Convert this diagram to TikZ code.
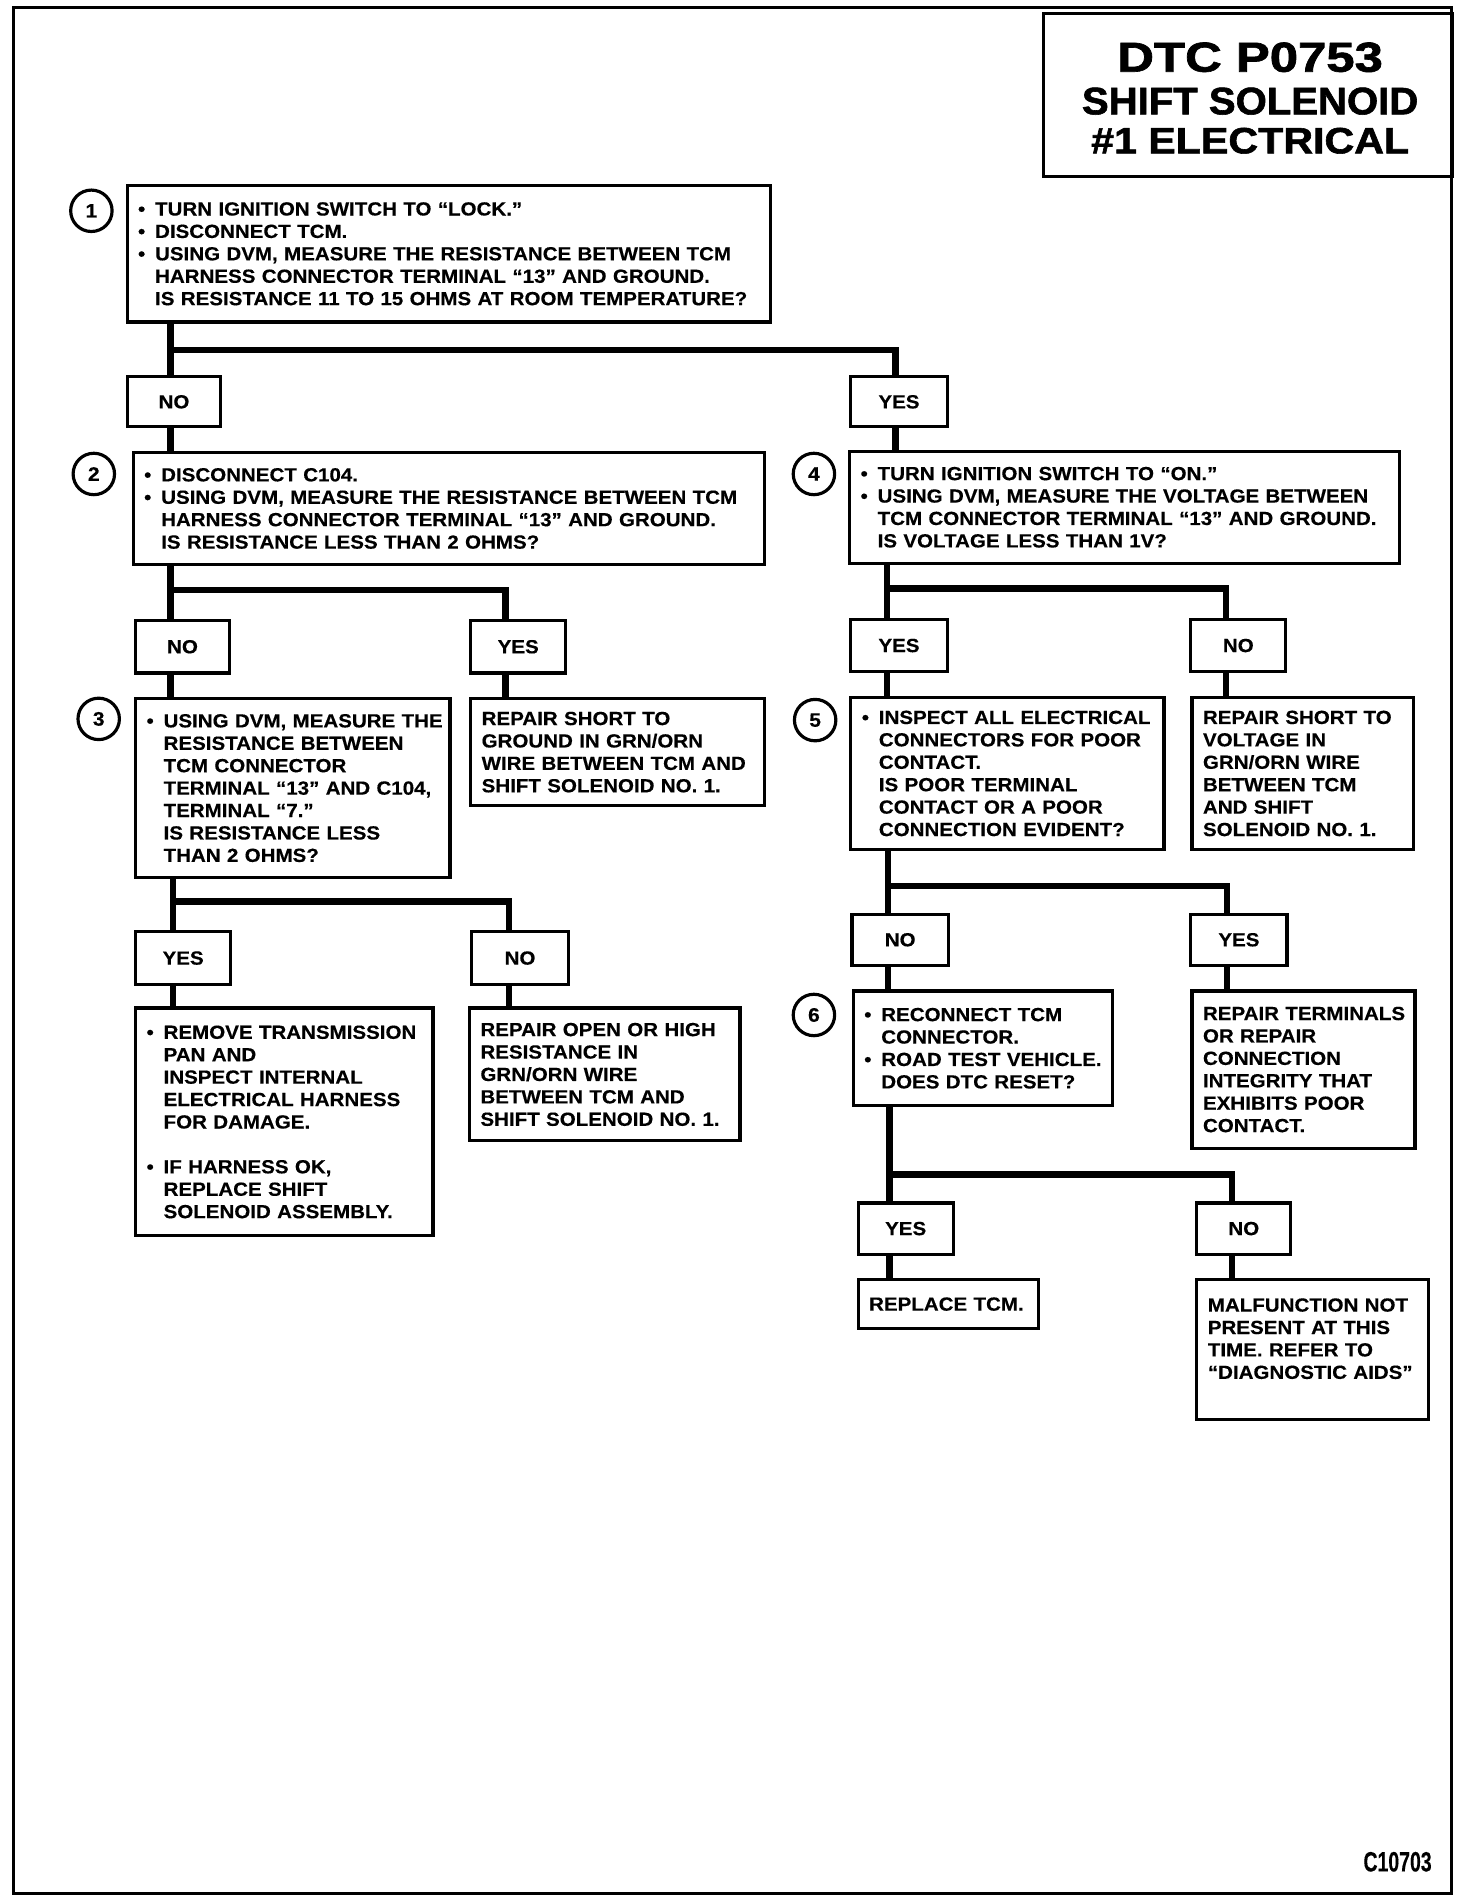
\documentclass[tikz,border=0pt]{standalone}
\usepackage{fontspec}
\setmainfont{Liberation Sans}[FakeStretch=1.08,FakeBold=0.35]
\newfontfamily\ttlfont{Liberation Sans}[FakeBold=1.5]
\usepackage{graphicx}
\newcommand{\bi}[1]{\mbox{\makebox[7pt][l]{•}#1}}
\newcommand{\ci}[1]{\mbox{\hspace*{7pt}#1}}
\newcommand{\pl}[1]{\mbox{#1}}
\begin{document}
\begin{tikzpicture}[x=0.5pt,y=-0.5pt,
  box/.style={draw,line width=1.3pt,anchor=north west,inner xsep=4.5pt,inner ysep=0pt,align=left,font=\bfseries\fontsize{7.8}{9.2}\selectfont},
  lbl/.style={draw,line width=1.3pt,anchor=north west,inner sep=0pt,font=\bfseries\fontsize{7.8}{9.2}\selectfont},
  num/.style={draw,circle,line width=1.3pt,minimum size=17pt,inner sep=0pt,font=\bfseries\fontsize{8}{9}\selectfont},
  conn/.style={line width=2.6pt,line join=miter}]
\useasboundingbox (0,0) rectangle (1208,1561);
\draw[line width=1.2pt] (11,6) rectangle (1191,1554);
% title
\node[draw,line width=1.2pt,anchor=north west,minimum width=168pt,minimum height=67pt,inner sep=0pt] (tbox) at (855,10) {};
\node[align=center,inner sep=0pt,font=\ttlfont\bfseries\fontsize{10}{12}\selectfont] (ttl) at (1026,80.5)
 {\resizebox{109pt}{12pt}{DTC P0753}\\[5.5pt]\resizebox{138pt}{11pt}{SHIFT SOLENOID}\\[4pt]\resizebox{130.5pt}{10.5pt}{\#1 ELECTRICAL}};
\node[inner sep=0pt,font=\bfseries] (code) at (1147,1528) {\resizebox{28pt}{8pt}{C10703}};
% step numbers
\node[num] (c1) at (75,173) {1};
\node[num] (c2) at (77,389) {2};
\node[num] (c3) at (81,590) {3};
\node[num] (c4) at (668,389) {4};
\node[num] (c5) at (669,591) {5};
\node[num] (c6) at (668,833) {6};
% boxes
\node[box,text width=255pt,minimum height=56pt] (b1) at (103,151) {%
\bi{TURN IGNITION SWITCH TO “LOCK.”}\\
\bi{DISCONNECT TCM.}\\
\bi{USING DVM, MEASURE THE RESISTANCE BETWEEN TCM}\\
\ci{HARNESS CONNECTOR TERMINAL “13” AND GROUND.}\\
\ci{IS RESISTANCE 11 TO 15 OHMS AT ROOM TEMPERATURE?}};
\node[lbl,minimum width=38.5pt,minimum height=20.5pt] (no1) at (103,308) {NO};
\node[lbl,minimum width=39.5pt,minimum height=20.5pt] (yes1) at (697,308) {YES};
\node[box,text width=250pt,minimum height=46pt] (b2) at (108,370) {%
\bi{DISCONNECT C104.}\\
\bi{USING DVM, MEASURE THE RESISTANCE BETWEEN TCM}\\
\ci{HARNESS CONNECTOR TERMINAL “13” AND GROUND.}\\
\ci{IS RESISTANCE LESS THAN 2 OHMS?}};
\node[box,text width=216.5pt,minimum height=46pt] (b4) at (696,369) {%
\bi{TURN IGNITION SWITCH TO “ON.”}\\
\bi{USING DVM, MEASURE THE VOLTAGE BETWEEN}\\
\ci{TCM CONNECTOR TERMINAL “13” AND GROUND.}\\
\ci{IS VOLTAGE LESS THAN 1V?}};
\node[lbl,minimum width=38.5pt,minimum height=21.5pt] (no2) at (110,508) {NO};
\node[lbl,minimum width=39pt,minimum height=21.5pt] (yes2) at (385,508) {YES};
\node[box,text width=120pt,minimum height=73.5pt] (b3) at (110,572) {%
\bi{USING DVM, MEASURE THE}\\
\ci{RESISTANCE BETWEEN}\\
\ci{TCM CONNECTOR}\\
\ci{TERMINAL “13” AND C104,}\\
\ci{TERMINAL “7.”}\\
\ci{IS RESISTANCE LESS}\\
\ci{THAN 2 OHMS?}};
\node[box,text width=111.5pt,minimum height=44pt] (r1) at (385,572) {%
\pl{REPAIR SHORT TO}\\
\pl{GROUND IN GRN/ORN}\\
\pl{WIRE BETWEEN TCM AND}\\
\pl{SHIFT SOLENOID NO. 1.}};
\node[lbl,minimum width=39pt,minimum height=22pt] (yes3) at (110,763) {YES};
\node[lbl,minimum width=39.5pt,minimum height=22pt] (no3) at (386,763) {NO};
\node[box,text width=113pt,minimum height=93.5pt] (r2) at (110,826) {%
\bi{REMOVE TRANSMISSION}\\
\ci{PAN AND}\\
\ci{INSPECT INTERNAL}\\
\ci{ELECTRICAL HARNESS}\\
\ci{FOR DAMAGE.}\\[9.2pt]
\bi{IF HARNESS OK,}\\
\ci{REPLACE SHIFT}\\
\ci{SOLENOID ASSEMBLY.}};
\node[box,text width=102pt,minimum height=54.5pt] (r3) at (384,826) {%
\pl{REPAIR OPEN OR HIGH}\\
\pl{RESISTANCE IN}\\
\pl{GRN/ORN WIRE}\\
\pl{BETWEEN TCM AND}\\
\pl{SHIFT SOLENOID NO. 1.}};
\node[lbl,minimum width=39.5pt,minimum height=21.5pt] (yes4) at (697,507) {YES};
\node[lbl,minimum width=39pt,minimum height=21.5pt] (no4) at (976,507) {NO};
\node[box,text width=119.5pt,minimum height=62.5pt] (b5) at (697,571) {%
\bi{INSPECT ALL ELECTRICAL}\\
\ci{CONNECTORS FOR POOR}\\
\ci{CONTACT.}\\
\ci{IS POOR TERMINAL}\\
\ci{CONTACT OR A POOR}\\
\ci{CONNECTION EVIDENT?}};
\node[box,text width=82pt,minimum height=62.5pt] (r4) at (977,571) {%
\pl{REPAIR SHORT TO}\\
\pl{VOLTAGE IN}\\
\pl{GRN/ORN WIRE}\\
\pl{BETWEEN TCM}\\
\pl{AND SHIFT}\\
\pl{SOLENOID NO. 1.}};
\node[lbl,minimum width=39.5pt,minimum height=21pt] (no5) at (698,749) {NO};
\node[lbl,minimum width=39.5pt,minimum height=21pt] (yes5) at (976,749) {YES};
\node[box,text width=97.5pt,minimum height=47pt] (b6) at (699,812) {%
\bi{RECONNECT TCM}\\
\ci{CONNECTOR.}\\
\bi{ROAD TEST VEHICLE.}\\
\ci{DOES DTC RESET?}};
\node[box,text width=82.5pt,minimum height=64.5pt] (r5) at (977,812) {%
\pl{REPAIR TERMINALS}\\
\pl{OR REPAIR}\\
\pl{CONNECTION}\\
\pl{INTEGRITY THAT}\\
\pl{EXHIBITS POOR}\\
\pl{CONTACT.}};
\node[lbl,minimum width=39pt,minimum height=21pt] (yes6) at (703,986) {YES};
\node[lbl,minimum width=38.5pt,minimum height=21pt] (no6) at (981,986) {NO};
\node[box,text width=65pt,minimum height=20pt] (r6) at (703,1049) {\pl{REPLACE TCM.}};
\node[box,text width=86pt,minimum height=57.5pt] (r7) at (981,1049) {%
\pl{MALFUNCTION NOT}\\
\pl{PRESENT AT THIS}\\
\pl{TIME. REFER TO}\\
\pl{“DIAGNOSTIC AIDS”}\\
\mbox{}};
% connectors
\coordinate (j1) at (140,287); \coordinate (k1) at (735,287);
\draw[conn] (b1.south -| j1) -- (j1) -- (k1) -- (yes1.north -| k1);
\draw[conn] (j1) -- (no1.north -| j1);
\draw[conn] (no1.south -| j1) -- (b2.north -| j1);
\draw[conn] (yes1.south -| k1) -- (b4.north -| k1);
\coordinate (j2) at (140,484); \coordinate (k2) at (415,484);
\draw[conn] (b2.south -| j2) -- (j2) -- (k2) -- (yes2.north -| k2);
\draw[conn] (j2) -- (no2.north -| j2);
\draw[conn] (no2.south -| j2) -- (b3.north -| j2);
\draw[conn] (yes2.south -| k2) -- (r1.north -| k2);
\coordinate (j3) at (142,740); \coordinate (k3) at (418,740);
\draw[conn] (b3.south -| j3) -- (j3) -- (k3) -- (no3.north -| k3);
\draw[conn] (j3) -- (yes3.north -| j3);
\draw[conn] (yes3.south -| j3) -- (r2.north -| j3);
\draw[conn] (no3.south -| k3) -- (r3.north -| k3);
\coordinate (j4) at (728,483); \coordinate (k4) at (1006,483);
\draw[conn] (b4.south -| j4) -- (j4) -- (k4) -- (no4.north -| k4);
\draw[conn] (j4) -- (yes4.north -| j4);
\draw[conn] (yes4.south -| j4) -- (b5.north -| j4);
\draw[conn] (no4.south -| k4) -- (r4.north -| k4);
\coordinate (j5) at (729,727); \coordinate (k5) at (1007,727);
\draw[conn] (b5.south -| j5) -- (j5) -- (k5) -- (yes5.north -| k5);
\draw[conn] (j5) -- (no5.north -| j5);
\draw[conn] (no5.south -| j5) -- (b6.north -| j5);
\draw[conn] (yes5.south -| k5) -- (r5.north -| k5);
\coordinate (j6) at (730,964); \coordinate (k6) at (1011,964);
\draw[conn] (b6.south -| j6) -- (j6) -- (k6) -- (no6.north -| k6);
\draw[conn] (j6) -- (yes6.north -| j6);
\draw[conn] (yes6.south -| j6) -- (r6.north -| j6);
\draw[conn] (no6.south -| k6) -- (r7.north -| k6);
\end{tikzpicture}
\end{document}
